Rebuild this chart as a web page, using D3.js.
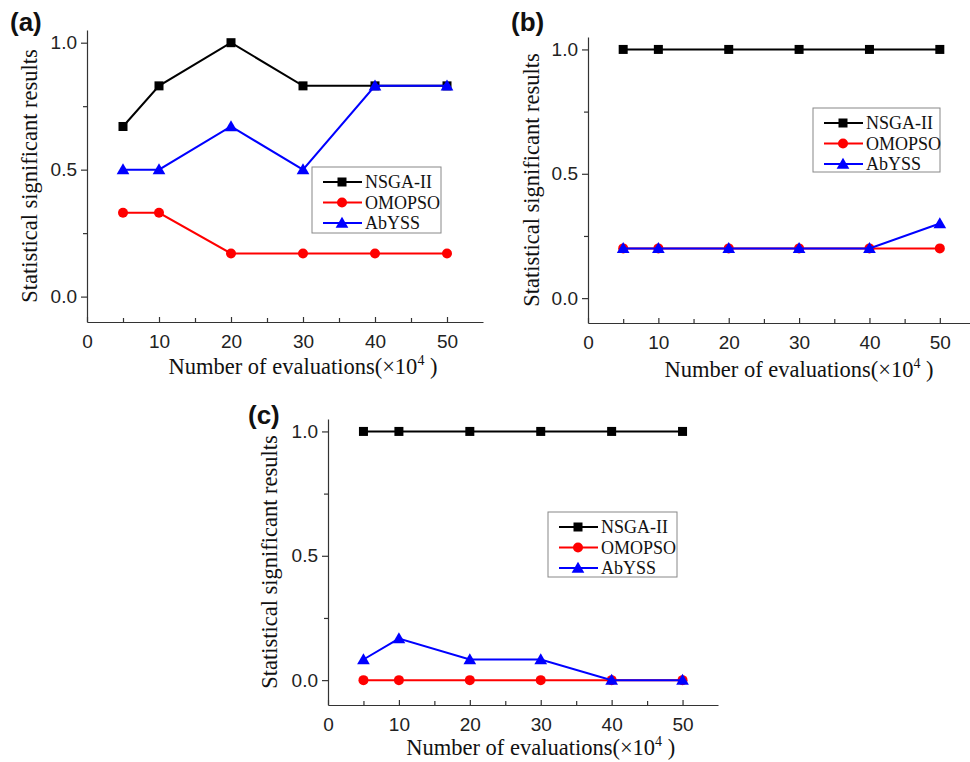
<!DOCTYPE html>
<html>
<head>
<meta charset="utf-8">
<script src="https://cdn.jsdelivr.net/npm/d3@7"></script>
<style>
  body { margin: 0; background: #fff; }
  .tick text { font-family: Arial, "Liberation Sans", sans-serif; font-size: 19px; fill: #222; }
  .axis path, .axis line { stroke: #333; stroke-width: 1.2; }
  .title { font-family: "Times New Roman", "Liberation Serif", serif; font-size: 22.5px; fill: #111; }
  .legend text { font-family: "Times New Roman", "Liberation Serif", serif; font-size: 18px; fill: #111; }
  .panel-label { font-family: Arial, "Liberation Sans", sans-serif; font-weight: bold; font-size: 26px; fill: #111; }
</style>
</head>
<body>
<svg id="chart" width="970" height="762"></svg>
<script>
const width = 970;
const height = 762;

const evaluations = [5, 10, 20, 30, 40, 50];
const seriesNames = ["NSGA-II", "OMOPSO", "AbYSS"];
const seriesColors = ["#000000", "#ff0000", "#0000ff"];
const xTicks = [0, 10, 20, 30, 40, 50];
const yTicks = [0.0, 0.5, 1.0];

// panel (a)
const nsgaA = [0.67, 0.83, 1.0, 0.83, 0.83, 0.83];
const omopsoA = [0.33, 0.33, 0.17, 0.17, 0.17, 0.17];
const abyssA = [0.5, 0.5, 0.67, 0.5, 0.83, 0.83];
// panel (b)
const nsgaB = [1.0, 1.0, 1.0, 1.0, 1.0, 1.0];
const omopsoB = [0.2, 0.2, 0.2, 0.2, 0.2, 0.2];
const abyssB = [0.2, 0.2, 0.2, 0.2, 0.2, 0.3];
// panel (c)
const nsgaC = [1.0, 1.0, 1.0, 1.0, 1.0, 1.0];
const omopsoC = [0, 0, 0, 0, 0, 0];
const abyssC = [0.083, 0.167, 0.083, 0.083, 0, 0];

const svg = d3.select("#chart");

const panels = [
    { label: "(a)", labelX: 10, labelY: 31, left: 87, right: 483, top: 30, bottom: 322,
      yTitleX: 37, xTitleY: 374, legend: [312, 167, 129, 66], series: [nsgaA, omopsoA, abyssA] },
    { label: "(b)", labelX: 511, labelY: 31, left: 588, right: 975, top: 37, bottom: 323,
      yTitleX: 539, xTitleY: 377, legend: [813, 108, 127, 64], series: [nsgaB, omopsoB, abyssB] },
    { label: "(c)", labelX: 248, labelY: 424, left: 328, right: 718, top: 419, bottom: 705,
      yTitleX: 277, xTitleY: 755, legend: [548, 512, 129, 65], series: [nsgaC, omopsoC, abyssC] }
];

function drawMarker(g, i, x, y, color) {
    if (i === 0) {
        g.append("rect").attr("x", x - 4.5).attr("y", y - 4.5).attr("width", 9).attr("height", 9).attr("fill", color);
    } else if (i === 1) {
        g.append("circle").attr("cx", x).attr("cy", y).attr("r", 5).attr("fill", color);
    } else {
        g.append("path").attr("d", d3.symbol().type(d3.symbolTriangle).size(70)())
            .attr("transform", `translate(${x},${y + 1})`).attr("fill", color);
    }
}

function drawPanel(p) {
    const x = d3.scaleLinear().domain([0, 55]).range([p.left, p.right]);
    const y = d3.scaleLinear().domain([-0.1, 1.05]).range([p.bottom, p.top]);
    const g = svg.append("g");

    // minor ticks
    g.append("g").attr("class", "axis").attr("transform", `translate(0,${p.bottom})`)
        .call(d3.axisBottom(x).tickValues([5, 15, 25, 35, 45]).tickSize(-4).tickFormat(""))
        .select(".domain").remove();
    g.append("g").attr("class", "axis").attr("transform", `translate(${p.left},0)`)
        .call(d3.axisLeft(y).tickValues([0.25, 0.75]).tickSize(4).tickFormat(""))
        .select(".domain").remove();

    g.append("g").attr("class", "axis").attr("transform", `translate(0,${p.bottom})`)
        .call(d3.axisBottom(x).tickValues(xTicks).tickSize(-5).tickSizeOuter(0).tickPadding(13).tickFormat(d3.format("d")));
    g.append("g").attr("class", "axis").attr("transform", `translate(${p.left},0)`)
        .call(d3.axisLeft(y).tickValues(yTicks).tickSize(6).tickSizeOuter(0).tickPadding(4).tickFormat(d3.format(".1f")));

    // lines and markers
    const line = d3.line().x((d, j) => x(evaluations[j])).y(d => y(d));
    p.series.forEach((vals, i) => {
        g.append("path").datum(vals).attr("d", line)
            .attr("fill", "none").attr("stroke", seriesColors[i]).attr("stroke-width", 2);
        vals.forEach((v, j) => drawMarker(g, i, x(evaluations[j]), y(v), seriesColors[i]));
    });

    // axis titles
    g.append("text").attr("class", "title")
        .attr("transform", `translate(${p.yTitleX},${(p.top + p.bottom) / 2}) rotate(-90)`)
        .attr("text-anchor", "middle").text("Statistical significant results");
    const xt = g.append("text").attr("class", "title")
        .attr("x", x(30)).attr("y", p.xTitleY).attr("text-anchor", "middle");
    xt.append("tspan").text("Number of evaluations(×10");
    xt.append("tspan").attr("font-size", "14px").attr("dy", -9).text("4");
    xt.append("tspan").attr("dy", 9).text(" )");

    // legend
    const [lx, ly, lw, lh] = p.legend;
    const lg = g.append("g").attr("class", "legend");
    lg.append("rect").attr("x", lx).attr("y", ly).attr("width", lw).attr("height", lh)
        .attr("fill", "#fff").attr("stroke", "#888").attr("stroke-width", 1);
    seriesNames.forEach((name, i) => {
        const ry = ly + 15 + i * 20.5;
        lg.append("line").attr("x1", lx + 11).attr("x2", lx + 50).attr("y1", ry).attr("y2", ry)
            .attr("stroke", seriesColors[i]).attr("stroke-width", 2);
        drawMarker(lg, i, lx + 30, ry, seriesColors[i]);
        lg.append("text").attr("x", lx + 53).attr("y", ry + 6).text(name);
    });

    svg.append("text").attr("class", "panel-label").attr("x", p.labelX).attr("y", p.labelY).text(p.label);
}

panels.forEach(drawPanel);
</script>
</body>
</html>
